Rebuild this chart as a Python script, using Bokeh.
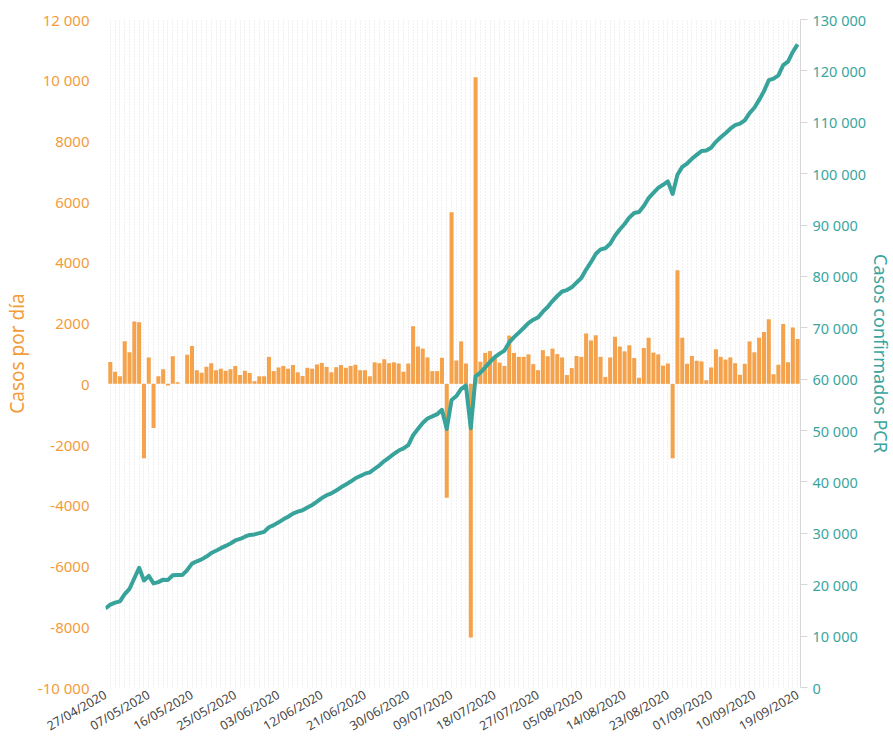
import math
from bokeh.plotting import figure
from bokeh.models import Range1d, LinearAxis, FixedTicker, ColumnDataSource
from bokeh.embed import file_html
from bokeh.resources import INLINE

# ---------------- data ----------------
# daily cases (bars), day index 1..144
daily_cases = [
    720, 400, 250, 1400, 1040, 2050, 2030, -2450, 870, -1450,
    250, 480, -50, 910, 50, 0, 960, 1250, 450, 370,
    560, 680, 450, 500, 430, 480, 590, 290, 430, 360,
    90, 250, 250, 890, 420, 540, 590, 500, 620, 380,
    260, 530, 500, 640, 690, 560, 380, 550, 620, 530,
    590, 630, 450, 450, 250, 710, 680, 810, 680, 710,
    670, 400, 670, 1900, 1230, 1160, 870, 420, 420, 860,
    -3750, 5650, 770, 1400, 670, -8350, 10100, 730, 1020, 1080,
    910, 700, 590, 1590, 1020, 890, 890, 970, 650, 450,
    1110, 910, 1160, 980, 870, 290, 520, 920, 890, 1660,
    1430, 1600, 890, 230, 870, 1550, 1230, 1070, 1270, 850,
    200, 1180, 1520, 1030, 970, 600, 670, -2450, 3740, 1520,
    660, 920, 760, 740, 120, 540, 1140, 890, 800, 870,
    680, 300, 660, 1400, 1040, 1520, 1710, 2130, 320, 630,
    1970, 710, 1860, 1480,
]
daily_index = list(range(1, 145))

# confirmed PCR cases (line), day index 0..144
confirmed_pcr = [
    15400, 16120, 16520, 16770, 18170, 19210, 21260, 23290, 20840, 21710,
    20260, 20510, 20990, 20940, 21850, 21900, 21900, 22860, 24110, 24560,
    24930, 25490, 26170, 26620, 27120, 27550, 28030, 28620, 28910, 29340,
    29700, 29790, 30040, 30290, 31180, 31600, 32140, 32730, 33230, 33850,
    34230, 34490, 35020, 35520, 36160, 36850, 37410, 37790, 38340, 38960,
    39490, 40080, 40710, 41160, 41610, 41860, 42570, 43250, 44060, 44740,
    45450, 46120, 46520, 47190, 49090, 50320, 51480, 52350, 52770, 53190,
    54050, 50300, 55950, 56720, 58120, 58790, 50440, 60540, 61270, 62290,
    63370, 64280, 64980, 65570, 67160, 68180, 69070, 69960, 70930, 71580,
    72030, 73140, 74050, 75210, 76190, 77060, 77350, 77870, 78790, 79680,
    81340, 82770, 84370, 85260, 85490, 86360, 87910, 89140, 90210, 91480,
    92330, 92530, 93710, 95230, 96260, 97230, 97830, 98500, 96050, 99790,
    101310, 101970, 102890, 103650, 104390, 104510, 105050, 106190, 107080, 107880,
    108750, 109430, 109730, 110390, 111790, 112830, 114350, 116060, 118190, 118510,
    119140, 121110, 121820, 123680, 125160,
]
confirmed_index = list(range(0, 145))

# x tick labels
x_tick_index = [0, 9, 18, 27, 36, 45, 54, 63, 72, 81, 90, 99, 108, 117, 126, 135, 144]
x_tick_labels = [
    "27/04/2020", "07/05/2020", "16/05/2020", "25/05/2020", "03/06/2020",
    "12/06/2020", "21/06/2020", "30/06/2020", "09/07/2020", "18/07/2020",
    "27/07/2020", "05/08/2020", "14/08/2020", "23/08/2020", "01/09/2020",
    "10/09/2020", "19/09/2020",
]

left_ticks = [-10000, -8000, -6000, -4000, -2000, 0, 2000, 4000, 6000, 8000, 10000, 12000]
left_labels = ["-10 000", "-8000", "-6000", "-4000", "-2000", "0", "2000", "4000",
               "6000", "8000", "10 000", "12 000"]

right_ticks = [0, 10000, 20000, 30000, 40000, 50000, 60000, 70000, 80000, 90000,
               100000, 110000, 120000, 130000]
right_labels = ["0", "10 000", "20 000", "30 000", "40 000", "50 000", "60 000",
                "70 000", "80 000", "90 000", "100 000", "110 000", "120 000", "130 000"]

# ---------------- style ----------------
ORANGE = "#F39C3C"
BAR_COLOR = "#F4A24B"
TEAL = "#3AA59E"
LINE_COLOR = "#37A39B"
FONT = "Noto Sans"

p = figure(
    frame_width=695, frame_height=668,
    output_backend="svg", toolbar_location=None,
    x_range=Range1d(0, 144.6),
    y_range=Range1d(-10000, 12000),
    min_border_left=101, min_border_right=20,
    min_border_top=19, min_border_bottom=20,
)
p.extra_y_ranges = {"cum": Range1d(0, 130000)}
p.outline_line_color = None
p.background_fill_color = "white"
p.border_fill_color = "white"

# grid: dotted, per day
p.xgrid.ticker = FixedTicker(ticks=list(range(0, 145)))
p.xgrid.grid_line_color = "#e1e1e1"
p.xgrid.grid_line_dash = "1 2"
p.xgrid.grid_line_width = 1
p.ygrid.visible = False

bar_src = ColumnDataSource(dict(x=daily_index, top=daily_cases))
p.vbar(x="x", top="top", bottom=0, width=0.84, source=bar_src,
       fill_color=BAR_COLOR, line_color=None)

line_src = ColumnDataSource(dict(x=confirmed_index, y=confirmed_pcr))
p.line(x="x", y="y", source=line_src, y_range_name="cum",
       line_color=LINE_COLOR, line_width=4, line_join="round")

# x axis
xa = p.xaxis[0]
xa.ticker = FixedTicker(ticks=x_tick_index)
xa.major_label_overrides = {t: l for t, l in zip(x_tick_index, x_tick_labels)}
xa.major_label_orientation = math.pi / 6
xa.major_label_text_font = FONT
xa.major_label_text_font_size = "12.5px"
xa.major_label_text_color = "#444444"
xa.axis_line_color = None
xa.major_tick_line_color = None
xa.minor_tick_line_color = None
xa.major_tick_out = 0
xa.major_label_standoff = 6

# left axis
ya = p.yaxis[0]
ya.ticker = FixedTicker(ticks=left_ticks)
ya.major_label_overrides = {t: l for t, l in zip(left_ticks, left_labels)}
ya.major_label_text_font = FONT
ya.major_label_text_font_size = "15px"
ya.major_label_text_color = ORANGE
ya.axis_line_color = None
ya.major_tick_line_color = None
ya.minor_tick_line_color = None
ya.major_tick_out = 0
ya.major_label_standoff = 16
ya.axis_label = "Casos por día"
ya.axis_label_text_font = FONT
ya.axis_label_text_font_size = "19px"
ya.axis_label_text_font_style = "normal"
ya.axis_label_text_color = ORANGE
ya.axis_label_standoff = 5

# right axis
ra = LinearAxis(y_range_name="cum")
ra.ticker = FixedTicker(ticks=right_ticks)
ra.major_label_overrides = {t: l for t, l in zip(right_ticks, right_labels)}
ra.major_label_text_font = FONT
ra.major_label_text_font_size = "14.5px"
ra.major_label_text_color = TEAL
ra.axis_line_color = "#d6d6d6"
ra.axis_line_width = 1
ra.major_tick_line_color = "#d6d6d6"
ra.minor_tick_line_color = None
ra.major_tick_out = 7
ra.major_tick_in = 0
ra.major_label_standoff = 5
ra.axis_label = "Casos confirmados PCR"
ra.axis_label_text_font = FONT
ra.axis_label_text_font_size = "18px"
ra.axis_label_text_font_style = "normal"
ra.axis_label_text_color = TEAL
ra.axis_label_standoff = 0
p.add_layout(ra, "right")

open("out.html", "w").write(file_html(p, INLINE))
